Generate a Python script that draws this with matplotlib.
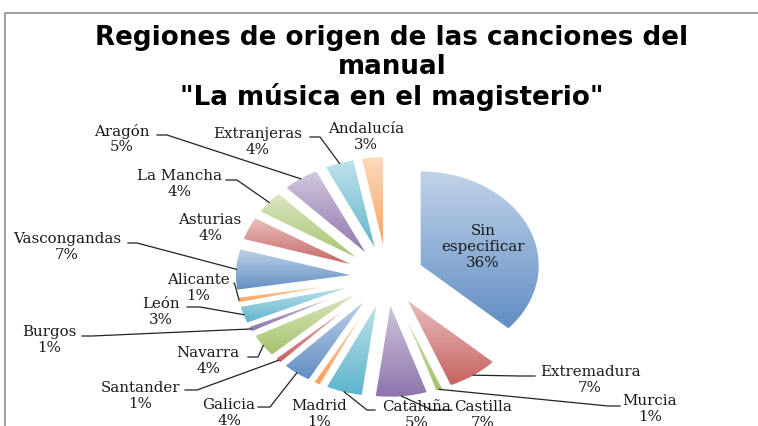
import numpy as np
import matplotlib
matplotlib.use("Agg")
import matplotlib.pyplot as plt
from matplotlib.patches import Rectangle

# data
regiones = ["Sin\nespecificar", "Extremadura", "Murcia", "Castilla", "Cataluña",
            "Madrid", "Galicia", "Santander", "Navarra", "Burgos", "León",
            "Alicante", "Vascongandas", "Asturias", "La Mancha", "Aragón",
            "Extranjeras", "Andalucía"]
porcentajes = [36, 7, 1, 7, 5, 1, 4, 1, 4, 1, 3, 1, 7, 4, 4, 5, 4, 3]

# excel 2007 colour cycle
base = ["#4F81BD", "#C0504D", "#9BBB59", "#8064A2", "#4BACC6", "#F79646"]
colores = [base[i % 6] for i in range(len(porcentajes))]

# label centres in pixels (x, y from top)
pos_etiq = [(483, 247), (590, 380), (650, 409), (483, 415), (417, 415),
            (319, 414), (229, 413), (140, 396), (208, 361), (49, 340),
            (161, 312), (198, 288), (67, 247), (210, 228), (179, 184),
            (122, 139), (258, 142), (366, 137)]
# leader lines: index -> (start, knee) in pixels, end is on the slice
lideres = {1: [(535, 376), (520, 376)], 2: [(620, 406), (608, 406)],
           3: [(452, 410), (432, 410)], 4: [(375, 410), (367, 410)],
           6: [(258, 407), (270, 407)], 7: [(185, 390), (197, 390)],
           8: [(248, 357), (258, 357)], 9: [(82, 336), (92, 336)],
           10: [(187, 307), (200, 307)], 11: [(234, 283), (235, 285)],
           12: [(128, 243), (137, 243)], 14: [(226, 180), (237, 180)],
           15: [(157, 135), (167, 135)], 16: [(310, 137), (320, 137)]}

W, H = 758, 426
cx, cy, r, sx = 387, 277, 95, 1.26

def a_datos(p):
    return ((p[0] - cx) / (r * sx), (cy - p[1]) / r)

fig = plt.figure(figsize=(W / 100, H / 100), dpi=100)
fig.patches.append(Rectangle((5 / W, -0.1), 1.2, (H - 13) / H + 0.1,
                             transform=fig.transFigure, fill=False,
                             edgecolor="#8c8c8c", linewidth=1.2))
ax = fig.add_axes([0, 0, 1, 1])
ax.set_facecolor("none")

expl = [0.27] * len(porcentajes)
expl[0] = 0.3
wedges, _ = ax.pie(porcentajes, explode=expl, startangle=90, counterclock=False,
                   colors=colores, radius=1,
                   wedgeprops=dict(edgecolor="white", linewidth=1.2))


def mezcla(c, f):
    c = np.array(matplotlib.colors.to_rgb(c))
    return c + (1 - c) * f

for w, c in zip(wedges, colores):
    v = w.get_path().vertices
    grad = np.linspace(mezcla(c, 0.1), mezcla(c, 0.65), 64)[:, None, :]
    im = ax.imshow(grad, extent=[v[:, 0].min(), v[:, 0].max(), v[:, 1].min(), v[:, 1].max()],
                   origin="lower", aspect="auto", interpolation="bilinear", zorder=1)
    im.set_clip_path(w)
    w.set_facecolor("none")
    w.set_zorder(2)

ax.set_xlim(a_datos((0, 0))[0], a_datos((W, 0))[0])
ax.set_ylim(a_datos((0, H))[1], a_datos((0, 0))[1])
ax.set_aspect("auto")
ax.axis("off")

# leader lines
for i, (p0, p1) in lideres.items():
    w = wedges[i]
    th = np.deg2rad((w.theta1 + w.theta2) / 2)
    fin = (w.center[0] + 0.99 * np.cos(th), w.center[1] + 0.99 * np.sin(th))
    a, b = a_datos(p0), a_datos(p1)
    ax.plot([a[0], b[0], fin[0]], [a[1], b[1], fin[1]], color="#222222",
            linewidth=0.9, zorder=3)

for i, (nom, pct) in enumerate(zip(regiones, porcentajes)):
    x, y = a_datos(pos_etiq[i])
    ax.text(x, y, f"{nom}\n{pct}%", ha="center", va="center", fontsize=10.8,
            family="DejaVu Serif", color="#1a1a1a", linespacing=1.15, zorder=4)

fig.text(392 / W, 1 - 68 / H,
         'Regiones de origen de las canciones del\nmanual\n"La música en el magisterio"',
         ha="center", va="center", fontsize=18.8, fontweight="bold",
         family="DejaVu Sans", linespacing=1.12)

fig.savefig("out.png", dpi=100)
